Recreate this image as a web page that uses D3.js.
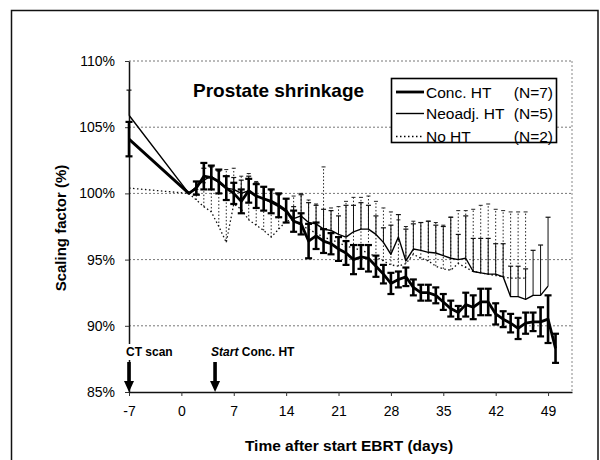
<!DOCTYPE html>
<html><head><meta charset="utf-8">
<script src="https://cdn.jsdelivr.net/npm/d3@7"></script>
<style>
html,body{margin:0;padding:0;background:#fff;}
text{font-family:"Liberation Sans",Arial,sans-serif;fill:#000;}
</style></head>
<body><svg id="c" width="600" height="460"></svg>
<script>
// ---- data ----
const xTicks = [-7, 0, 7, 14, 21, 28, 35, 42, 49];
const yTicks = [85, 90, 95, 100, 105, 110];

const concDays = [-7,1,2,3,4,5,6,7,8,9,10,11,12,13,14,15,16,17,18,19,20,21,22,23,24,25,26,27,28,29,30,31,32,33,34,35,36,37,38,39,40,41,42,43,44,45,46,47,48,49,50];
const concMean = [104.1,100.0,100.4,101.3,101.2,100.9,100.4,100.0,99.4,100.2,99.8,99.6,99.4,99.1,98.7,97.9,97.7,96.4,96.8,96.4,96.2,95.8,95.5,95.0,95.2,95.1,94.5,93.9,93.2,93.5,93.7,92.9,92.5,92.5,92.3,91.8,91.3,91.0,91.6,91.4,91.8,91.8,90.9,90.5,90.2,89.8,90.2,90.3,90.3,90.5,88.3];
const concErr  = [1.3,0,0.5,1.0,0.9,0.9,0.9,0.8,0.9,0.9,0.9,0.9,0.9,0.9,0.9,0.8,0.8,1.3,1.0,0.9,0.8,0.9,0.9,1.1,0.9,1.0,0.8,0.7,0.8,0.6,0.7,0.6,0.6,0.6,0.6,0.6,0.6,0.5,0.9,0.9,1.0,1.0,0.8,0.6,0.7,0.8,0.8,0.7,1.1,1.8,1.1];

const neoDays = [-7,1,2,3,4,5,6,7,8,9,10,11,12,13,14,15,16,17,18,19,20,21,22,23,24,25,26,27,28,29,30,31,32,33,34,35,36,37,38,39,40,41,42,43,44,45,46,47,48,49];
const neoMean = [105.9,100.0,100.5,101.0,101.3,100.8,100.4,100.3,100.0,100.2,99.8,99.6,99.3,99.0,98.6,98.1,98.3,97.8,97.7,97.3,97.2,96.9,96.7,97.1,97.3,97.3,96.9,96.3,95.4,96.7,94.9,95.8,95.7,95.55,95.5,95.3,95.1,95.0,95.1,94.1,94.0,93.9,93.9,93.7,92.2,92.2,92.0,92.3,92.3,93.0];
const neoUpper = [107.8,null,100.9,101.9,102.0,101.7,101.3,101.2,101.0,101.3,100.8,100.5,100.3,99.9,99.6,99.0,99.9,99.3,99.1,98.8,98.7,98.3,99.1,99.1,99.3,99.1,98.3,97.4,97.6,98.4,97.3,97.7,97.8,97.9,97.6,97.5,98.2,96.9,98.3,96.6,96.6,96.6,96.2,96.2,94.5,94.5,94.3,95.7,96.1,98.2];

const noDays = [-7,1,2,3,4,5,6,7,8,9,10,11,12,13,14,15,16,17,18,19,20,21,22,23,24,25,26,27,28,29,30,31,32,33,34,35,36,37,38,39,40,41,42,43,44,45,46];
const noMean = [100.4,100.0,99.5,99.0,98.6,97.5,96.3,99.2,98.8,98.0,97.6,97.2,96.7,97.3,97.9,98.0,97.6,97.3,97.0,96.7,96.5,96.3,96.0,95.9,95.7,95.5,95.2,94.9,94.6,94.5,94.7,95.4,95.1,94.9,94.5,94.3,94.2,94.7,94.4,94.1,94.0,93.9,93.8,93.7,93.6,93.6,93.6];
const noUpper = [null,null,100.3,100.8,101.2,101.7,101.8,101.9,101.3,101.5,100.9,100.5,100.2,99.9,99.6,99.8,100.0,99.5,99.2,102.0,98.9,99.0,99.4,99.7,99.7,99.8,99.4,98.9,98.6,98.0,97.5,97.9,97.8,97.9,97.8,97.6,98.2,98.7,98.7,98.8,99.1,99.2,98.8,98.7,98.6,98.6,98.6];

const legendNames = ["Conc. HT", "Neoadj. HT", "No HT"];
const legendN = ["(N=7)", "(N=5)", "(N=2)"];
const markers = [{day: -7, label: "CT scan", italic: null}, {day: 4.5, label: "Conc. HT", italic: "Start"}];

// ---- layout ----
const svg = d3.select("#c");
const x = d3.scaleLinear().domain([-7, 52.2]).range([129, 572]);
const y = d3.scaleLinear().domain([85, 110]).range([392, 61]);

// outer frame
svg.append("rect").attr("x", 11.5).attr("y", 10.5).attr("width", 586.5).attr("height", 470)
  .attr("fill", "none").attr("stroke", "#111").attr("stroke-width", 1.5);

// gridlines
svg.append("g").selectAll("line").data(yTicks.filter(v => v > 85)).join("line")
  .attr("x1", x(-7)).attr("x2", x(52.2)).attr("y1", d => y(d)).attr("y2", d => y(d))
  .attr("stroke", "#777").attr("stroke-width", 1).attr("stroke-dasharray", "2,2");
svg.append("line").attr("x1", x(52.2)).attr("x2", x(52.2)).attr("y1", y(110)).attr("y2", y(85))
  .attr("stroke", "#888").attr("stroke-width", 1).attr("stroke-dasharray", "2,2");

// axes
const xAxis = svg.append("g").attr("transform", `translate(0,${y(85)})`)
  .call(d3.axisBottom(x).tickValues(xTicks).tickSize(4).tickSizeOuter(0).tickPadding(10).tickFormat(d => String(d)));
xAxis.select(".domain").attr("stroke", "#111").attr("stroke-width", 1.5);
xAxis.selectAll(".tick line").attr("stroke", "#333");
xAxis.selectAll(".tick text").attr("font-size", "14px").attr("font-family", "Liberation Sans, Arial, sans-serif");

const yAxis = svg.append("g").attr("transform", `translate(${x(-7)},0)`)
  .call(d3.axisLeft(y).tickValues(yTicks).tickSize(4).tickSizeOuter(0).tickPadding(10).tickFormat(d => d + "%"));
yAxis.select(".domain").attr("stroke", "#111").attr("stroke-width", 1.5);
yAxis.selectAll(".tick line").attr("stroke", "#333");
yAxis.selectAll(".tick text").attr("font-size", "14px").attr("font-family", "Liberation Sans, Arial, sans-serif");

// axis titles
svg.append("text").attr("x", 349).attr("y", 451).attr("text-anchor", "middle")
  .attr("font-size", "15.5px").attr("font-weight", "bold").text("Time after start EBRT (days)");
svg.append("text").attr("transform", "translate(66,228) rotate(-90)").attr("text-anchor", "middle")
  .attr("font-size", "15px").attr("font-weight", "bold").text("Scaling factor (%)");

// chart title
svg.append("text").attr("x", 193).attr("y", 97).attr("font-size", "19px").attr("font-weight", "bold")
  .text("Prostate shrinkage");

// ---- series ----
function series(days, mean) { return days.map((d, i) => ({d, v: mean[i]})); }
const line = d3.line().x(p => x(p.d)).y(p => y(p.v));

// No HT (dotted)
const noG = svg.append("g");
const noBars = noDays.map((d, i) => ({d, lo: noMean[i], hi: noUpper[i]})).filter(b => b.hi != null);
noG.selectAll(".b").data(noBars).join("line")
  .attr("x1", b => x(b.d)).attr("x2", b => x(b.d)).attr("y1", b => y(b.lo)).attr("y2", b => y(b.hi))
  .attr("stroke", "#222").attr("stroke-width", 1).attr("stroke-dasharray", "1.5,2");
noG.selectAll(".c").data(noBars).join("line")
  .attr("x1", b => x(b.d) - 2).attr("x2", b => x(b.d) + 2).attr("y1", b => y(b.hi)).attr("y2", b => y(b.hi))
  .attr("stroke", "#222").attr("stroke-width", 1);
noG.append("path").datum(series(noDays, noMean)).attr("d", line)
  .attr("fill", "none").attr("stroke", "#111").attr("stroke-width", 1.3).attr("stroke-dasharray", "1.5,2.5");

// Neoadj HT (thin solid, upward bars)
const neoG = svg.append("g");
const neoBars = neoDays.map((d, i) => ({d, lo: neoMean[i], hi: neoUpper[i]})).filter(b => b.hi != null);
neoG.selectAll(".b").data(neoBars).join("line")
  .attr("x1", b => x(b.d)).attr("x2", b => x(b.d)).attr("y1", b => y(b.lo)).attr("y2", b => y(b.hi))
  .attr("stroke", "#111").attr("stroke-width", 1);
neoG.selectAll(".c").data(neoBars).join("line")
  .attr("x1", b => x(b.d) - 2.5).attr("x2", b => x(b.d) + 2.5).attr("y1", b => y(b.hi)).attr("y2", b => y(b.hi))
  .attr("stroke", "#111").attr("stroke-width", 1.2);
neoG.append("path").datum(series(neoDays, neoMean)).attr("d", line)
  .attr("fill", "none").attr("stroke", "#000").attr("stroke-width", 1.4).attr("stroke-linejoin", "round");

// Conc HT (thick, symmetric bars)
const concG = svg.append("g");
const concBars = concDays.map((d, i) => ({d, lo: concMean[i] - concErr[i], hi: concMean[i] + concErr[i]})).filter(b => b.hi > b.lo);
concG.selectAll(".b").data(concBars).join("line")
  .attr("x1", b => x(b.d)).attr("x2", b => x(b.d)).attr("y1", b => y(b.lo)).attr("y2", b => y(b.hi))
  .attr("stroke", "#000").attr("stroke-width", 2.6);
concG.selectAll(".ct").data(concBars.flatMap(b => [{d: b.d, v: b.lo}, {d: b.d, v: b.hi}])).join("line")
  .attr("x1", c => x(c.d) - 3.5).attr("x2", c => x(c.d) + 3.5).attr("y1", c => y(c.v)).attr("y2", c => y(c.v))
  .attr("stroke", "#000").attr("stroke-width", 2.2);
concG.append("path").datum(series(concDays, concMean)).attr("d", line)
  .attr("fill", "none").attr("stroke", "#000").attr("stroke-width", 2.8).attr("stroke-linejoin", "round");

// ---- legend ----
const lg = svg.append("g");
lg.append("rect").attr("x", 391.5).attr("y", 78.5).attr("width", 165).attr("height", 64)
  .attr("fill", "#fff").attr("stroke", "#000").attr("stroke-width", 1.6);
const rowY = [92, 113.5, 136.5];
const sampleStyles = [
  {w: 2.8, dash: null}, {w: 1.4, dash: null}, {w: 1.3, dash: "1.5,2.5"}
];
legendNames.forEach((name, i) => {
  const l = lg.append("line").attr("x1", 396).attr("x2", 424).attr("y1", rowY[i]).attr("y2", rowY[i])
    .attr("stroke", "#000").attr("stroke-width", sampleStyles[i].w);
  if (sampleStyles[i].dash) l.attr("stroke-dasharray", sampleStyles[i].dash);
  lg.append("text").attr("x", 426).attr("y", rowY[i] + 5.5).attr("font-size", "15.5px").text(name);
  lg.append("text").attr("x", 553).attr("y", rowY[i] + 5.5).attr("text-anchor", "end").attr("font-size", "15.5px").text(legendN[i]);
});

// ---- event markers ----
markers.forEach(m => {
  const cx = x(m.day);
  const g = svg.append("g");
  const t = g.append("text").attr("x", m.italic ? cx - 4 : cx - 3).attr("y", 356)
    .attr("font-size", "12px").attr("font-weight", "bold");
  if (m.italic) { t.append("tspan").attr("font-style", "italic").text(m.italic + " "); }
  t.append("tspan").text(m.label);
  const bb = t.node().getBBox();
  g.insert("rect", "text").attr("x", bb.x - 1).attr("y", bb.y - 1).attr("width", bb.width + 2).attr("height", bb.height + 2).attr("fill", "#fff");
  g.append("rect").attr("x", cx - 1.8).attr("y", 362).attr("width", 3.6).attr("height", 21).attr("fill", "#000");
  g.append("path").attr("d", `M${cx - 5},${381} L${cx + 5},${381} L${cx},${y(85)} Z`).attr("fill", "#000");
});
</script></body></html>
